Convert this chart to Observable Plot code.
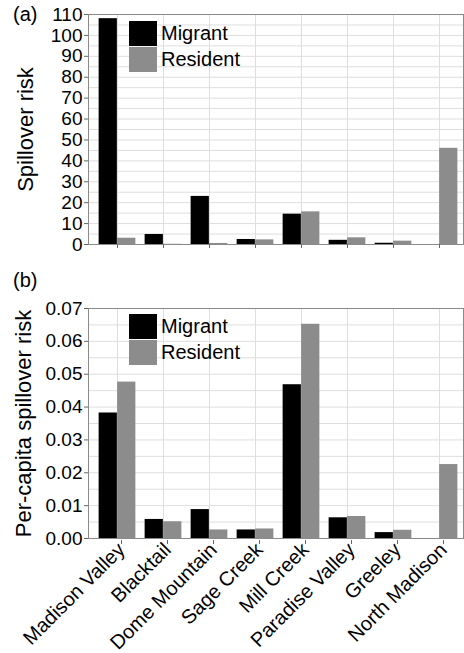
<!DOCTYPE html>
<html><head><meta charset="utf-8">
<script src="https://cdn.jsdelivr.net/npm/d3@7"></script>
<script src="https://cdn.jsdelivr.net/npm/@observablehq/plot@0.6"></script>
<style>
body{margin:0;background:#fff;font-family:"Liberation Sans",Arial,sans-serif;color:#000;}
#wrap{position:relative;width:464px;height:653px;overflow:hidden;}
.tag{position:absolute;left:13px;font-size:20px;line-height:20px;}
.legend{position:absolute;left:129px;}
.item{display:flex;align-items:center;height:26px;}
.sw{width:28px;height:25px;margin-right:4px;}
.item span{font-size:20px;}
svg [aria-label="y-axis label"]{font-size:22px;}
</style></head><body><div id="wrap"></div>
<script>
const sites = ["Madison Valley","Blacktail","Dome Mountain","Sage Creek","Mill Creek","Paradise Valley","Greeley","North Madison"];
const series = ["Migrant","Resident"];
const colors = ["#000000","#8c8c8c"];
const riskMigrant  = [108, 4.8, 23, 2.4, 14.5, 2.0, 0.6, 0];
const riskResident = [3.0, 0.1, 0.5, 2.2, 15.6, 3.2, 1.6, 46];
const perMigrant   = [0.0382, 0.0058, 0.0088, 0.0026, 0.0468, 0.0063, 0.0018, 0];
const perResident  = [0.0476, 0.0051, 0.0026, 0.0029, 0.0652, 0.0067, 0.0025, 0.0225];
const yTicksA = [0,10,20,30,40,50,60,70,80,90,100,110];
const yTicksB = [0,0.01,0.02,0.03,0.04,0.05,0.06,0.07];
const yGridA = [5,10,15,20,25,30,35,40,45,50,55,60,65,70,75,80,85,90,95,100,105];
const yGridB = [0.005,0.01,0.015,0.02,0.025,0.03,0.035,0.04,0.045,0.05,0.055,0.06,0.065];

const W = 464, ML = 88, MR = 1, XIN = 5;
const bw = (W - ML - MR - XIN) / sites.length;
const gap = bw * 0.1, half = bw / 2;

function panel({mig, res, ticks, grid, fmt, label, height, mt, mb, labelOffset, showX}) {
  const rows = sites.map((s, i) => ({site: s, m: mig[i], r: res[i]}));
  return Plot.plot({
    width: W, height, marginLeft: ML, marginRight: MR, marginTop: mt, marginBottom: mb,
    style: {fontFamily: '"Liberation Sans", Arial, sans-serif', fontSize: "19px", color: "#000", background: "#fff"},
    x: {domain: sites, padding: 0, insetLeft: XIN},
    y: {domain: [ticks[0], ticks[ticks.length - 1]]},
    marks: [
      Plot.gridY({ticks: grid, stroke: "#dedede", strokeOpacity: 1}),
      Plot.gridX({stroke: "#dedede", strokeOpacity: 1}),
      Plot.barY(rows, {x: "site", y: "m", fill: colors[0], insetLeft: gap, insetRight: half}),
      Plot.barY(rows, {x: "site", y: "r", fill: colors[1], insetLeft: half, insetRight: gap}),
      Plot.frame({stroke: "#8a8a8a"}),
      Plot.axisY({ticks, tickSize: 4, tickPadding: 2, tickFormat: fmt, label, labelAnchor: "center", labelArrow: "none", labelOffset, stroke: "#666"}),
      showX
        ? Plot.axisX({tickSize: 4, tickPadding: 2, tickRotate: -45, fontSize: 20, dx: 4, dy: 2, label: null, stroke: "#666"})
        : Plot.axisX({tickSize: 4, tickFormat: () => "", label: null, stroke: "#666"})
    ]
  });
}

const wrap = document.getElementById("wrap");
const a = panel({mig: riskMigrant, res: riskResident, ticks: yTicksA, grid: yGridA, fmt: d3.format("d"), label: "Spillover risk", height: 262, mt: 14, mb: 18, labelOffset: 71, showX: false});
const b = panel({mig: perMigrant, res: perResident, ticks: yTicksB, grid: yGridB, fmt: d3.format(".2f"), label: "Per-capita spillover risk", height: 391, mt: 46, mb: 115, labelOffset: 73, showX: true});
a.style.display = "block"; b.style.display = "block";
wrap.appendChild(a); wrap.appendChild(b);

function addTag(text, top) {
  const d = document.createElement("div");
  d.className = "tag"; d.style.top = top + "px"; d.textContent = text;
  wrap.appendChild(d);
}
function addLegend(top) {
  const lg = document.createElement("div");
  lg.className = "legend"; lg.style.top = top + "px";
  series.forEach((s, i) => {
    const it = document.createElement("div"); it.className = "item";
    const sw = document.createElement("div"); sw.className = "sw"; sw.style.background = colors[i];
    const t = document.createElement("span"); t.textContent = s;
    it.appendChild(sw); it.appendChild(t); lg.appendChild(it);
  });
  wrap.appendChild(lg);
}
addTag("(a)", 4); addTag("(b)", 270);
addLegend(20); addLegend(313);
</script></body></html>
